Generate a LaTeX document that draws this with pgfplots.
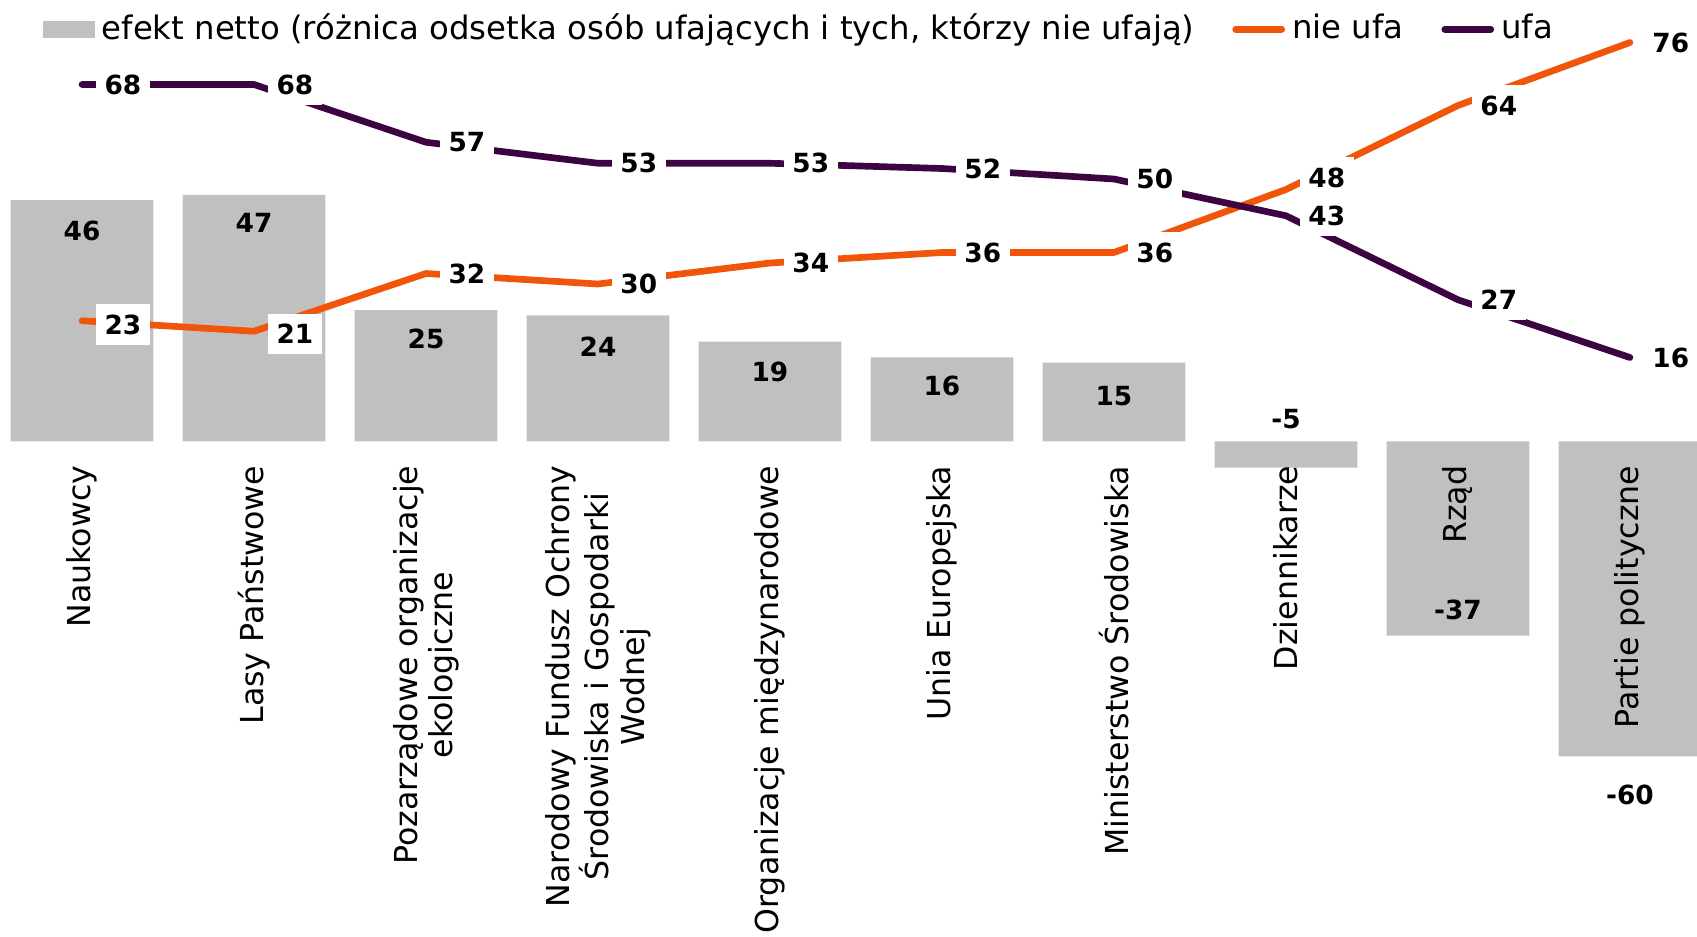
\documentclass[border=0pt]{standalone}
\usepackage{pgfplots}
\pgfplotsset{compat=1.18}
\usepackage{fontspec}
\setmainfont{DejaVu Sans}
\definecolor{barGray}{HTML}{C0C0C0}
\definecolor{nieUfa}{HTML}{F0550A}
\definecolor{ufaCol}{HTML}{3C0541}

\pgfplotstableread{
x net nie ufa
0 46 23 68
1 47 21 68
2 25 32 57
3 24 30 53
4 19 34 53
5 16 36 52
6 15 36 50
7 -5 48 43
8 -37 64 27
9 -60 76 16
}\dane

% label positions (y)
\pgfplotstableread{
x ly l
0 40.2 46
1 41.6 47
2 19.6 25
3 18.1 24
4 13.2 19
5 10.5 16
6 8.7 15
7 4.3 -5
8 -32 -37
9 -67.4 -60
}\netLab

\pgfplotstableread{
x ly l
0 22.3 23
1 20.5 21
2 32 32
3 30 30
4 34 34
5 36 36
6 36 36
7 50.3 48
8 64 64
9 76 76
}\nieLab

\pgfplotstableread{
x ly l
0 68 68
1 68 68
2 57 57
3 53 53
4 53 53
5 52 52
6 50 50
7 43 43
8 27 27
9 16 16
}\ufaLab

\begin{document}
\begin{tikzpicture}
\begin{axis}[
  scale only axis,
  width=169.7mm, height=93.6mm,
  xmin=-0.477, xmax=9.39,
  ymin=-94.2, ymax=84.1,
  clip=false,
  axis on top,
  axis x line=middle,
  axis y line=none,
  x axis line style={draw=none},
  major tick length=0pt,
  xtick={0,...,9},
  xticklabels={Naukowcy, Lasy Państwowe, {Pozarządowe organizacje\\ekologiczne},
    {Narodowy Fundusz Ochrony\\Środowiska i Gospodarki\\Wodnej},
    Organizacje międzynarodowe, Unia Europejska, Ministerstwo Środowiska,
    Dziennikarze, Rząd, Partie polityczne},
  xticklabel style={rotate=90, anchor=east, align=center,
    font=\fontsize{9}{10}\selectfont, inner sep=0pt, xshift=-6.7pt},
  legend columns=3,
  legend cell align=left,
  legend style={at={(axis description cs:0,1)}, anchor=north west,
    xshift=4.2mm, yshift=-0.6mm, draw=none, fill=none, inner sep=0pt,
    font=\fontsize{9.2}{11}\selectfont,
    /tikz/every even column/.append style={column sep=3.1mm}},
]
\addplot[ybar, bar width=0.83, fill=barGray, draw=none,
  legend image code/.code={\fill[barGray] (0mm,-0.85mm) rectangle (5.2mm,0.85mm);}]
  table[x=x, y=net] {\dane};
\addlegendentry{efekt netto (różnica odsetka osób ufających i tych, którzy nie ufają)}

\addplot[nieUfa, line width=1.9pt, line cap=round, line join=round, mark=none,
  legend image code/.code={\draw[nieUfa, line width=1.9pt, line cap=round] (0.3mm,0mm) -- (4.9mm,0mm);}]
  table[x=x, y=nie] {\dane};
\addlegendentry{nie ufa}

\addplot[ufaCol, line width=1.9pt, line cap=round, line join=round, mark=none,
  legend image code/.code={\draw[ufaCol, line width=1.9pt, line cap=round] (0.3mm,0mm) -- (4.9mm,0mm);}]
  table[x=x, y=ufa] {\dane};
\addlegendentry{ufa}

% value labels
\addplot[forget plot, draw=none, mark=none, nodes near coords,
  point meta=explicit symbolic,
  nodes near coords style={anchor=center, font=\bfseries\fontsize{7.5}{8}\selectfont}]
  table[x=x, y=ly, meta=l] {\netLab};
\addplot[forget plot, draw=none, mark=none, nodes near coords,
  point meta=explicit symbolic,
  nodes near coords style={anchor=west, xshift=1.3mm, fill=white,
    inner xsep=2.5pt, inner ysep=3pt, font=\bfseries\fontsize{7.5}{8}\selectfont}]
  table[x=x, y=ly, meta=l] {\nieLab};
\addplot[forget plot, draw=none, mark=none, nodes near coords,
  point meta=explicit symbolic,
  nodes near coords style={anchor=west, xshift=1.3mm, fill=white,
    inner xsep=2.5pt, inner ysep=3pt, font=\bfseries\fontsize{7.5}{8}\selectfont}]
  table[x=x, y=ly, meta=l] {\ufaLab};
\end{axis}
\pgfresetboundingbox
\path (current axis.south west) rectangle (current axis.north east);
\end{tikzpicture}
\end{document}
